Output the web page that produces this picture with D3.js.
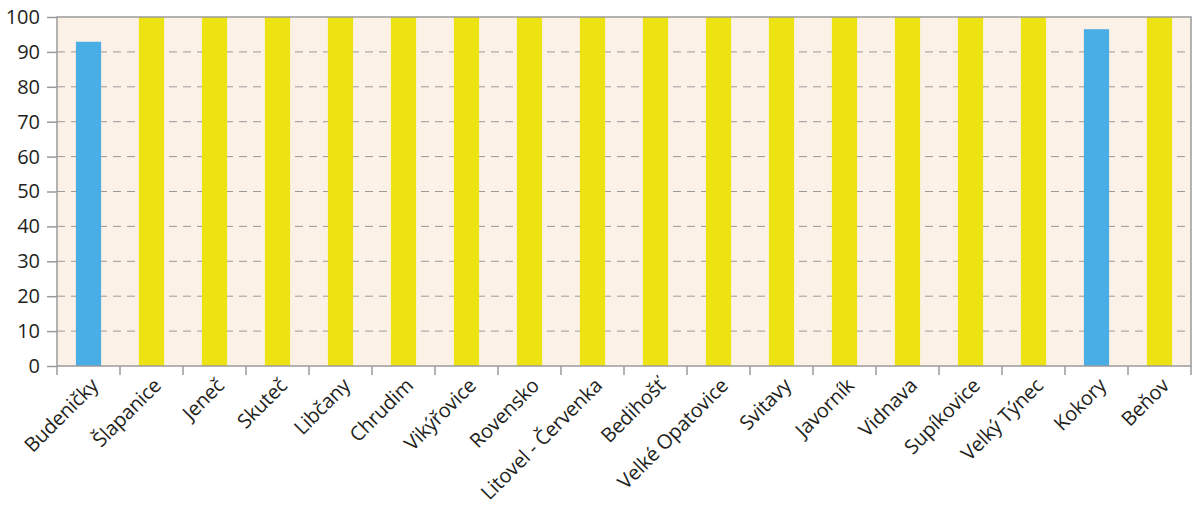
<!DOCTYPE html>
<html><head><meta charset="utf-8">
<script src="https://cdn.jsdelivr.net/npm/d3@7"></script>
<style>body{margin:0;background:#fff}svg{display:block}</style>
</head><body><svg id="c" width="1200" height="509"></svg>
<script>
const categories = ["Budeničky","Šlapanice","Jeneč","Skuteč","Libčany","Chrudim","Vikýřovice","Rovensko","Litovel - Červenka","Bedihošť","Velké Opatovice","Svitavy","Javorník","Vidnava","Supíkovice","Velký Týnec","Kokory","Beňov"];
const values = [92.9,100,100,100,100,100,100,100,100,100,100,100,100,100,100,100,96.5,100];
const highlight = ["Budeničky","Kokory"];
const yTicks = [0,10,20,30,40,50,60,70,80,90,100];

const svg = d3.select("#c");
const m = {l:57, t:17, r:1191, b:366};
const x = d3.scaleBand().domain(categories).range([m.l, m.r]).paddingInner(0.6).paddingOuter(0.3);
const y = d3.scaleLinear().domain([0,100]).range([m.b, m.t]);
const font = "'Open Sans', sans-serif";

svg.append("rect").attr("x",m.l).attr("y",m.t).attr("width",m.r-m.l).attr("height",m.b-m.t).attr("fill","#fcf1e7");

// gridlines
svg.append("g").selectAll("line").data(yTicks.filter(d=>d>0&&d<100)).join("line")
  .attr("x1",m.l).attr("x2",m.r).attr("y1",d=>y(d)).attr("y2",d=>y(d))
  .attr("stroke","#9a9a9a").attr("stroke-width",1).attr("stroke-dasharray","8,6");

// bars
svg.append("g").selectAll("rect").data(categories).join("rect")
  .attr("x",d=>x(d)).attr("width",x.bandwidth())
  .attr("y",(d,i)=>y(values[i])).attr("height",(d,i)=>y(0)-y(values[i]))
  .attr("fill",d=>highlight.includes(d)?"#4aaee6":"#ede313");

// border
svg.append("rect").attr("x",m.l).attr("y",m.t).attr("width",m.r-m.l).attr("height",m.b-m.t)
  .attr("fill","none").attr("stroke","#9a9a9a").attr("stroke-width",1.5);

// y axis
const ya = svg.append("g").attr("transform",`translate(${m.l},0)`)
  .call(d3.axisLeft(y).tickValues(yTicks).tickSize(10).tickPadding(7).tickFormat(d3.format("d")));
ya.select(".domain").remove();
ya.selectAll("line").attr("stroke","#9a9a9a").attr("stroke-width",1.5);
ya.selectAll("text").attr("font-family",font).attr("font-size",20).attr("fill","#231f20");

// x axis
const xb = d3.scalePoint().domain(d3.range(categories.length+1)).range([m.l,m.r]);
svg.append("g").selectAll("line").data(d3.range(categories.length+1)).join("line")
  .attr("x1",d=>xb(d)).attr("x2",d=>xb(d)).attr("y1",m.b).attr("y2",m.b+9)
  .attr("stroke","#9a9a9a").attr("stroke-width",1.5);
svg.append("g").selectAll("text").data(categories).join("text")
  .attr("transform",d=>`translate(${x(d)+x.bandwidth()/2+1},${m.b+11}) rotate(-45)`)
  .attr("text-anchor","end").attr("dy","0.7em")
  .attr("font-family",font).attr("font-size",20).attr("letter-spacing",-0.2).attr("fill","#231f20")
  .text(d=>d);
</script></body></html>
